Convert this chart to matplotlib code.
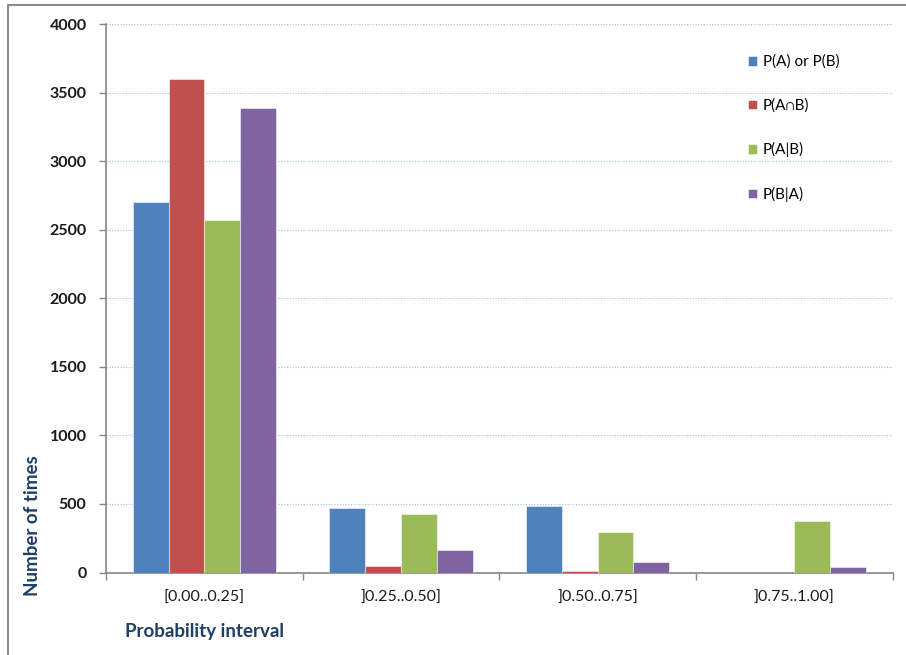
import matplotlib
matplotlib.use('Agg')
import matplotlib.pyplot as plt
import matplotlib.patches as patches
import numpy as np

plt.rcParams['font.family'] = ['Lato', 'DejaVu Sans']

# Data
intervals = ['[0.00..0.25]', ']0.25..0.50]', ']0.50..0.75]', ']0.75..1.00]']
p_a_or_b = [2700, 472, 485, 0]
p_a_and_b = [3600, 45, 10, 0]
p_a_given_b = [2570, 430, 295, 375]
p_b_given_a = [3385, 165, 75, 37]

series = [
    ('P(A) or P(B)', p_a_or_b, '#4F81BD'),
    ('P(A\u2229B)', p_a_and_b, '#C0504D'),
    ('P(A|B)', p_a_given_b, '#9BBB59'),
    ('P(B|A)', p_b_given_a, '#8064A2'),
]

fig = plt.figure(figsize=(9.06, 6.55), dpi=100)
ax = fig.add_axes([106 / 906, 82.5 / 655, 786.5 / 906, 548.5 / 655])

x = np.arange(len(intervals))
bar_w = 0.182
for i, (name, vals, col) in enumerate(series):
    ax.bar(x + (i - 1.5) * bar_w, vals, width=bar_w, color=col, label=name,
           edgecolor=(1, 1, 1, 0.6), linewidth=0.6, zorder=3)

# Axes styling
ax.set_xlim(-0.5, len(intervals) - 0.5)
ax.set_ylim(0, 4000)
ax.set_yticks(np.arange(0, 4001, 500))
ax.set_yticklabels([str(v) for v in range(0, 4001, 500)], fontweight='bold', fontsize=11.5, color='#1a1a1a')
ax.set_xticks(x)
ax.set_xticklabels(intervals, fontsize=11.5, color='#1a1a1a')
ax.set_xticks(np.arange(-0.5, len(intervals)), minor=True)
ax.tick_params(axis='x', which='major', length=0, pad=13)
ax.tick_params(axis='x', which='minor', length=5, color='#868686', width=1)
ax.tick_params(axis='y', length=5, color='#868686', width=1, pad=9)

for s in ['top', 'right']:
    ax.spines[s].set_visible(False)
for s in ['left', 'bottom']:
    ax.spines[s].set_color('#868686')
    ax.spines[s].set_linewidth(1.2)

ax.yaxis.grid(True, linestyle=(0, (1, 1.5)), color='#A9C1E0', linewidth=0.8, zorder=0)
ax.set_axisbelow(True)

# Axis titles
fig.text(33 / 906, 1 - 526 / 655, 'Number of times', rotation=90, ha='center', va='center',
         fontsize=13.5, fontweight='bold', color='#1F3E66')
fig.text(125 / 906, 1 - 632 / 655, 'Probability interval', ha='left', va='center',
         fontsize=13.5, fontweight='bold', color='#1F3E66')

# Legend
leg = ax.legend(loc='upper left', bbox_to_anchor=(734 / 906, 1 - 41 / 655),
                bbox_transform=fig.transFigure, frameon=False, fontsize=11,
                labelspacing=1.93, handlelength=0.6, handleheight=0.6, handletextpad=0.4)

# Outer chart border (left and top visible)
fig.add_artist(patches.Rectangle((8 / 906, -0.05), 1.0, 1 - 5 / 655 + 0.05,
                                 transform=fig.transFigure, fill=False,
                                 edgecolor='#8C8C8C', linewidth=1.5))

fig.savefig('out.png', dpi=100)
